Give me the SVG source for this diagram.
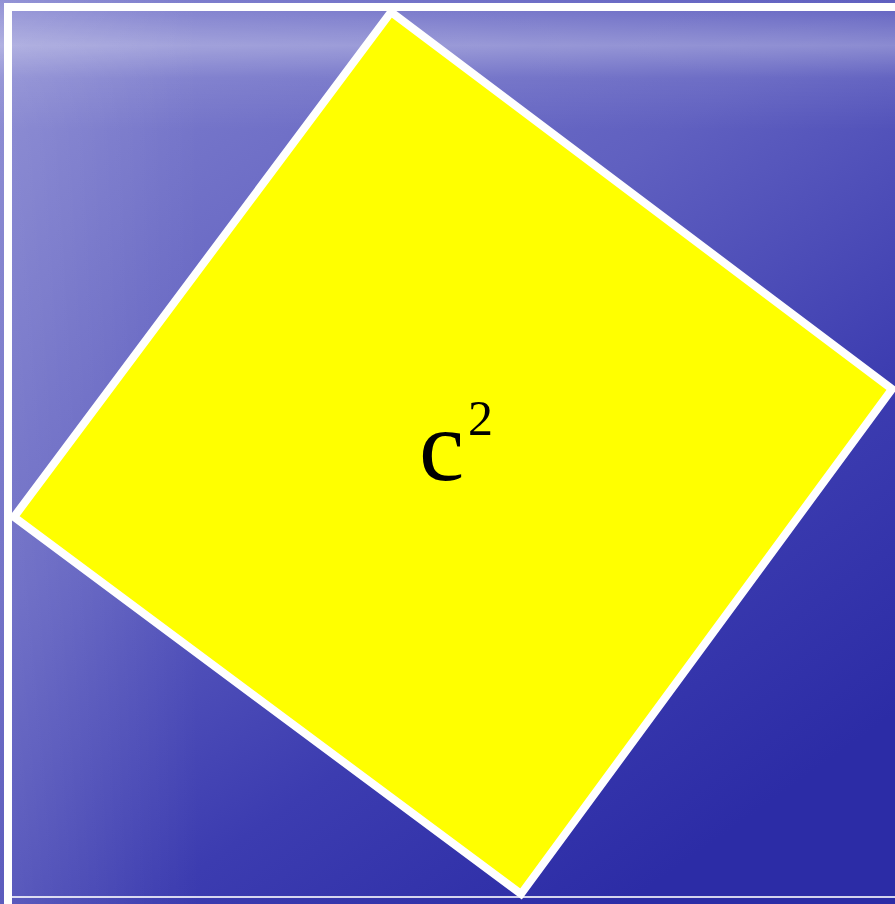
<svg xmlns="http://www.w3.org/2000/svg" width="895" height="904" viewBox="0 0 895 904">
<style>
.frame{fill:none;stroke:#ffffff}
.sq{fill:#ffff00;stroke:#ffffff;stroke-width:8;stroke-linejoin:miter}
.lbl{font-family:"Liberation Serif","Times New Roman",serif;fill:#000000}
</style>
<defs>
<linearGradient id="bg" x1="0" y1="0" x2="0.7" y2="1">
<stop offset="0" stop-color="#8484d0"/>
<stop offset="0.45" stop-color="#6060c0"/>
<stop offset="0.75" stop-color="#3c3cb0"/>
<stop offset="1" stop-color="#2c2ca6"/>
</linearGradient>
<linearGradient id="haze" x1="0" y1="0" x2="0" y2="1">
<stop offset="0" stop-color="#ffffff" stop-opacity="0"/>
<stop offset="0.35" stop-color="#ffffff" stop-opacity="0.3"/>
<stop offset="0.6" stop-color="#ffffff" stop-opacity="0.08"/>
<stop offset="1" stop-color="#ffffff" stop-opacity="0"/>
</linearGradient>
<linearGradient id="lside" x1="0" y1="0" x2="1" y2="0">
<stop offset="0" stop-color="#ffffff" stop-opacity="0.12"/>
<stop offset="1" stop-color="#ffffff" stop-opacity="0"/>
</linearGradient>
</defs>
<rect x="0" y="0" width="895" height="904" fill="url(#bg)"/>
<rect x="0" y="0" width="895" height="130" fill="url(#haze)"/>
<rect x="0" y="0" width="200" height="904" fill="url(#lside)"/>
<g id="frame">
<path class="frame" d="M8 904 V7 H895" stroke-width="8"/>
<line class="frame" x1="8" y1="897" x2="895" y2="897" stroke-width="2" stroke-opacity="0.8"/>
</g>
<g id="square">
<polygon class="sq" points="391,12 892,389 521,894 14,517"/>
<text class="lbl" x="419" y="480" font-size="102">c</text>
<text class="lbl" x="468" y="435" font-size="50">2</text>
</g>
</svg>
